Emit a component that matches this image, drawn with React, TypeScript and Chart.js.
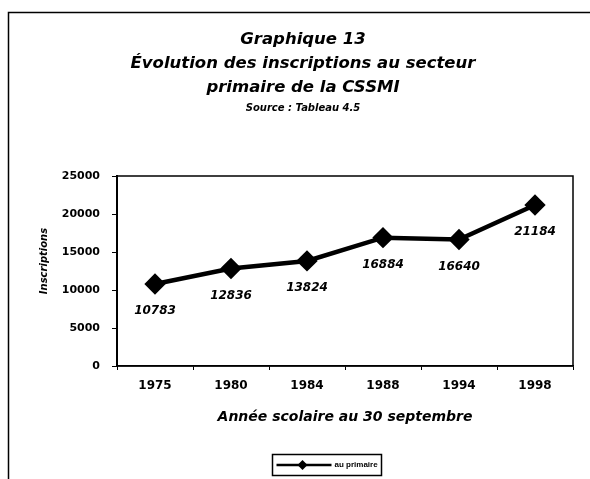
import React, { useEffect, useRef } from "react";
import { Chart, registerables } from "chart.js";

Chart.register(...registerables);

const years = ["1975", "1980", "1984", "1988", "1994", "1998"];
const inscriptions = [10783, 12836, 13824, 16884, 16640, 21184];
const titleLines = [
  "Graphique 13",
  "Évolution des inscriptions au secteur",
  "primaire de la CSSMI",
];
const sourceText = "Source : Tableau 4.5";
const yTitle = "Inscriptions";
const xTitle = "Année scolaire au 30 septembre";
const seriesName = "au primaire";

const FAM = "'DejaVu Sans', sans-serif";

const framePlugin = {
  id: "frame",
  beforeDraw(chart: any) {
    const { ctx } = chart;
    ctx.save();
    ctx.fillStyle = "#fff";
    ctx.fillRect(0, 0, chart.width, chart.height);
    ctx.strokeStyle = "#000";
    ctx.lineWidth = 1.5;
    ctx.beginPath();
    ctx.moveTo(8.5, chart.height);
    ctx.lineTo(8.5, 12.5);
    ctx.lineTo(chart.width, 12.5);
    ctx.stroke();
    ctx.restore();
  },
  afterDraw(chart: any) {
    const { ctx, chartArea } = chart;
    ctx.save();
    ctx.strokeStyle = "#000";
    ctx.lineWidth = 1.5;
    ctx.strokeRect(
      chartArea.left,
      chartArea.top,
      chartArea.right - chartArea.left,
      chartArea.bottom - chartArea.top
    );
    // y axis title
    ctx.fillStyle = "#000";
    ctx.save();
    ctx.translate(44, 261);
    ctx.rotate(-Math.PI / 2);
    ctx.font = `italic bold 10px ${FAM}`;
    ctx.textAlign = "center";
    ctx.textBaseline = "middle";
    ctx.fillText(yTitle, 0, 0);
    ctx.restore();
    // legend
    const bx = 272.5, by = 454.5, bw = 109, bh = 21;
    ctx.lineWidth = 1.5;
    ctx.strokeRect(bx, by, bw, bh);
    const cy = by + bh / 2;
    ctx.lineWidth = 2.5;
    ctx.beginPath();
    ctx.moveTo(bx + 4, cy);
    ctx.lineTo(bx + 59, cy);
    ctx.stroke();
    const dx = bx + 30, r = 5;
    ctx.beginPath();
    ctx.moveTo(dx, cy - r);
    ctx.lineTo(dx + r, cy);
    ctx.lineTo(dx, cy + r);
    ctx.lineTo(dx - r, cy);
    ctx.closePath();
    ctx.fill();
    ctx.font = "bold 8px 'Liberation Sans', sans-serif";
    ctx.textAlign = "left";
    ctx.textBaseline = "middle";
    ctx.fillText(seriesName, bx + 62, cy);
    ctx.restore();
  },
};

const labelPlugin = {
  id: "valueLabels",
  afterDatasetsDraw(chart: any) {
    const { ctx } = chart;
    const meta = chart.getDatasetMeta(0);
    const data = chart.data.datasets[0].data as number[];
    ctx.save();
    ctx.fillStyle = "#000";
    ctx.font = `italic bold 12px ${FAM}`;
    ctx.textAlign = "center";
    ctx.textBaseline = "middle";
    meta.data.forEach((pt: any, i: number) => {
      ctx.fillText(String(data[i]), pt.x, pt.y + 27);
    });
    ctx.restore();
  },
};

export default function App() {
  const ref = useRef<HTMLCanvasElement | null>(null);
  useEffect(() => {
    document.body.style.margin = "0";
    const canvas = ref.current;
    if (!canvas) return;
    const chart = new Chart(canvas, {
      type: "line",
      data: {
        labels: years,
        datasets: [
          {
            label: seriesName,
            data: inscriptions,
            borderColor: "#000",
            backgroundColor: "#000",
            borderWidth: 4.5,
            pointStyle: "rectRot",
            pointRadius: 7.5,
            pointBackgroundColor: "#000",
            pointBorderColor: "#000",
            tension: 0,
          },
        ],
      },
      options: {
        responsive: false,
        animation: false,
        layout: { padding: { top: 28, left: 33, right: 17, bottom: 0 } },
        plugins: {
          legend: { display: false },
          tooltip: { enabled: false },
          title: {
            display: true,
            text: titleLines,
            color: "#000",
            font: { family: FAM, size: 16.5, weight: "bold", style: "italic", lineHeight: 24 / 16.5 },
            padding: { top: 0, bottom: 0 },
          },
          subtitle: {
            display: true,
            text: sourceText,
            color: "#000",
            font: { family: FAM, size: 10, weight: "bold", style: "italic", lineHeight: 1.6 },
            padding: { top: 0, bottom: 60 },
          },
        },
        scales: {
          x: {
            type: "category",
            offset: true,
            afterFit(scale: any) {
              scale.height = 113;
            },
            grid: {
              display: true,
              drawOnChartArea: false,
              drawTicks: true,
              tickLength: 4,
              color: "#000",
              lineWidth: 1,
              offset: true,
            },
            border: { display: true, color: "#000", width: 1.5 },
            ticks: {
              color: "#000",
              font: { family: FAM, size: 12, weight: "bold" },
              padding: 9,
              maxRotation: 0,
            },
            title: {
              display: true,
              text: xTitle,
              color: "#000",
              font: { family: FAM, size: 14, weight: "bold", style: "italic", lineHeight: 1.2 },
              padding: { top: 0, bottom: 53 },
            },
          },
          y: {
            min: 0,
            max: 25000,
            afterFit(scale: any) {
              scale.width = 84;
            },
            grid: {
              display: true,
              drawOnChartArea: false,
              drawTicks: true,
              tickLength: 5,
              color: "#000",
              lineWidth: 1,
            },
            border: { display: true, color: "#000", width: 2 },
            ticks: {
              stepSize: 5000,
              color: "#000",
              font: { family: FAM, size: 11, weight: "bold" },
              padding: 12,
              callback: (v: any) => String(v),
            },
            title: { display: false },
          },
        },
      },
      plugins: [framePlugin, labelPlugin],
    });
    return () => chart.destroy();
  }, []);
  return (
    <div style={{ width: 590, height: 479 }}>
      <canvas ref={ref} width={590} height={479} style={{ display: "block" }} />
    </div>
  );
}
